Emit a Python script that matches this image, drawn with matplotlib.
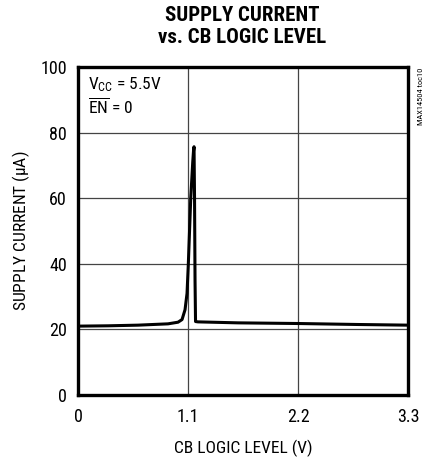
import matplotlib
matplotlib.use("Agg")
import matplotlib.pyplot as plt

plt.rcParams['font.family'] = ['Roboto Condensed', 'DejaVu Sans']
plt.rcParams['mathtext.fontset'] = 'custom'
plt.rcParams['mathtext.rm'] = 'Roboto Condensed'
plt.rcParams['mathtext.it'] = 'Roboto Condensed'
plt.rcParams['mathtext.default'] = 'rm'

# CB logic level (V) and supply current (uA)
cb_level = [0.0, 0.3, 0.6, 0.9, 1.0, 1.04, 1.07, 1.09, 1.103, 1.115, 1.127,
            1.138, 1.147, 1.155, 1.16, 1.165, 1.17, 1.175, 1.2, 1.6, 2.2, 2.8, 3.3]
supply_current = [21.0, 21.1, 21.3, 21.7, 22.2, 23.0, 26.0, 31.0, 40.0, 50.0, 60.0,
                  66.0, 71.0, 74.5, 75.7, 60.0, 35.0, 22.4, 22.3, 22.0, 21.8, 21.5, 21.3]

x_ticks = [0, 1.1, 2.2, 3.3]
x_tick_labels = ['0', '1.1', '2.2', '3.3']
y_ticks = [0, 20, 40, 60, 80, 100]

fig = plt.figure(figsize=(4.32, 4.59), dpi=100)
ax = fig.add_axes([0.1806, 0.1394, 0.764, 0.7146])

ax.plot(cb_level, supply_current, color='black', linewidth=2.2, zorder=3)

ax.set_xlim(0, 3.3)
ax.set_ylim(0, 100)
ax.set_xticks(x_ticks)
ax.set_xticklabels(x_tick_labels)
ax.set_yticks(y_ticks)
ax.tick_params(length=0, labelsize=13)
ax.tick_params(axis='x', pad=9)
ax.tick_params(axis='y', pad=8)
ax.grid(color='#444444', linewidth=0.9)
for s in ax.spines.values():
    s.set_linewidth(2.4)

ax.set_xlabel('CB LOGIC LEVEL (V)', fontsize=12.5, labelpad=10)
ax.set_ylabel('SUPPLY CURRENT ($\\mu$A)', fontsize=12.5, labelpad=6)

fig.text(0.5602, 0.988, 'SUPPLY CURRENT\nvs. CB LOGIC LEVEL', ha='center', va='top',
         fontsize=15, fontweight='bold', linespacing=1.2)

ax.text(0.03, 0.975, '$\\mathrm{V_{CC}}$ = 5.5V\n$\\overline{\\mathrm{EN}}$ = 0',
        transform=ax.transAxes, ha='left', va='top', fontsize=12.5, linespacing=1.15)

fig.text(0.974, 0.853, 'MAX14504 toc10', rotation=90, ha='center', va='top', fontsize=6)

plt.savefig('out.png', dpi=100)
plt.close()
